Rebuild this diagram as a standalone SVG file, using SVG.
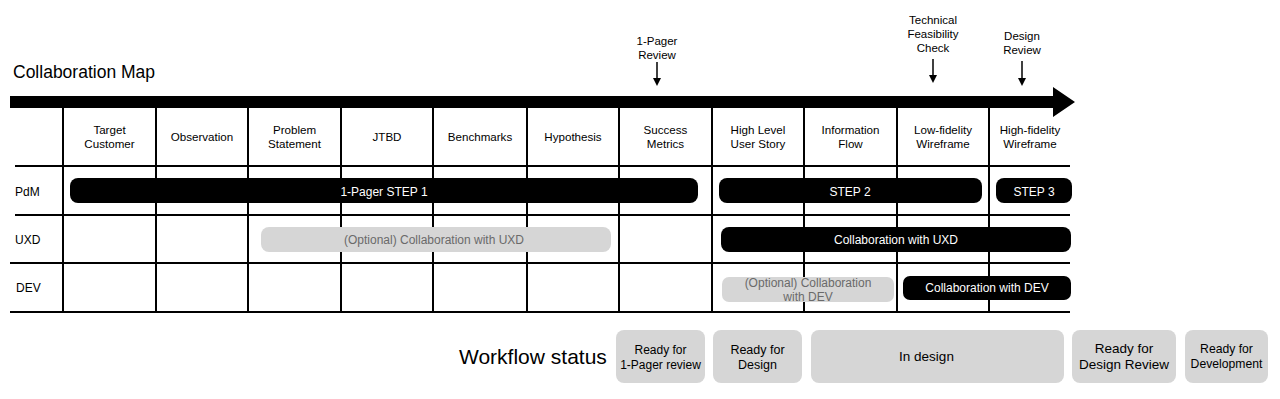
<svg xmlns="http://www.w3.org/2000/svg" width="1280" height="399" viewBox="0 0 1280 399">
<style>
text{font-family:"Liberation Sans",Arial,sans-serif;fill:#000}
.hd{font-size:11.6px;text-anchor:middle}
.ms{font-size:11.5px;text-anchor:middle}
.row{font-size:12px}
.grid line{stroke:#000;stroke-width:2}
.bk{fill:#000}
.gy{fill:#d6d6d6}
.bt{font-size:12px;text-anchor:middle;fill:#fff}
.gt{font-size:12px;text-anchor:middle;fill:#6a6a6a}
.st{fill:#d6d6d6}
.sx{text-anchor:middle}
</style>
<defs>
<marker id="ah" markerWidth="8" markerHeight="8" refX="4" refY="4" orient="auto" markerUnits="userSpaceOnUse">
<path d="M0,0 L8,4 L0,8 z" fill="#000"/>
</marker>
</defs>

<g id="title"><text x="13" y="78" style="font-size:17.5px">Collaboration Map</text></g>

<g id="timeline">
<polygon points="10,96 1053,96 1053,87 1075,102 1053,117 1053,108 10,108" fill="#000"/>
</g>

<g id="grid" class="grid">
<line x1="15" y1="166" x2="1070" y2="166"/>
<line x1="15" y1="215" x2="1070" y2="215"/>
<line x1="10" y1="263" x2="1070" y2="263"/>
<line x1="10" y1="312" x2="1070" y2="312"/>
<line x1="63" y1="108" x2="63" y2="312"/>
<line x1="156" y1="108" x2="156" y2="312"/>
<line x1="248" y1="108" x2="248" y2="312"/>
<line x1="341" y1="108" x2="341" y2="312"/>
<line x1="433" y1="108" x2="433" y2="312"/>
<line x1="527" y1="108" x2="527" y2="312"/>
<line x1="619" y1="108" x2="619" y2="312"/>
<line x1="712" y1="108" x2="712" y2="312"/>
<line x1="804" y1="108" x2="804" y2="312"/>
<line x1="897" y1="108" x2="897" y2="312"/>
<line x1="989" y1="108" x2="989" y2="312"/>
</g>

<g id="headers">
<text class="hd" x="109.5" y="133.5">Target</text><text class="hd" x="109.5" y="147.5">Customer</text>
<text class="hd" x="202" y="141">Observation</text>
<text class="hd" x="294.5" y="133.5">Problem</text><text class="hd" x="294.5" y="147.5">Statement</text>
<text class="hd" x="387" y="141">JTBD</text>
<text class="hd" x="480" y="141">Benchmarks</text>
<text class="hd" x="573" y="141">Hypothesis</text>
<text class="hd" x="665.5" y="133.5">Success</text><text class="hd" x="665.5" y="147.5">Metrics</text>
<text class="hd" x="758" y="133.5">High Level</text><text class="hd" x="758" y="147.5">User Story</text>
<text class="hd" x="850.5" y="133.5">Information</text><text class="hd" x="850.5" y="147.5">Flow</text>
<text class="hd" x="943" y="133.5">Low-fidelity</text><text class="hd" x="943" y="147.5">Wireframe</text>
<text class="hd" x="1030" y="133.5">High-fidelity</text><text class="hd" x="1030" y="147.5">Wireframe</text>
</g>

<g id="rows">
<text class="row" x="15" y="196">PdM</text>
<text class="row" x="15" y="244">UXD</text>
<text class="row" x="16" y="292">DEV</text>
</g>

<g id="milestone-1pager">
<text class="ms" x="657" y="45">1-Pager</text><text class="ms" x="657" y="59">Review</text>
</g>
<g id="milestone-tech">
<text class="ms" x="933" y="24">Technical</text><text class="ms" x="933" y="38">Feasibility</text><text class="ms" x="933" y="52">Check</text>
</g>
<g id="milestone-design">
<text class="ms" x="1022" y="40">Design</text><text class="ms" x="1022" y="54">Review</text>
</g>

<g id="connectors" stroke="#000" stroke-width="1.5">
<line x1="657" y1="62" x2="657" y2="82" marker-end="url(#ah)"/>
<line x1="933" y1="59" x2="933" y2="79" marker-end="url(#ah)"/>
<line x1="1022" y1="61" x2="1022" y2="82" marker-end="url(#ah)"/>
</g>

<g id="bar-step1"><rect class="bk" x="70" y="178" width="628" height="25" rx="8"/><text class="bt" x="384" y="196">1-Pager STEP 1</text></g>
<g id="bar-step2"><rect class="bk" x="719" y="178" width="263" height="25" rx="8"/><text class="bt" x="850" y="196">STEP 2</text></g>
<g id="bar-step3"><rect class="bk" x="996" y="178" width="76" height="25" rx="8"/><text class="bt" x="1034" y="196">STEP 3</text></g>
<g id="bar-uxd-opt"><rect class="gy" x="261" y="227" width="350" height="25" rx="8"/><text class="gt" x="434" y="244">(Optional) Collaboration with UXD</text></g>
<g id="bar-uxd"><rect class="bk" x="721" y="227" width="350" height="25" rx="8"/><text class="bt" x="896" y="244">Collaboration with UXD</text></g>
<g id="bar-dev-opt"><rect class="gy" x="722" y="277" width="172" height="25" rx="7"/><text class="gt" x="808" y="287">(Optional) Collaboration</text><text class="gt" x="808" y="301">with DEV</text></g>
<g id="bar-dev"><rect class="bk" x="903" y="276" width="168" height="24" rx="7"/><text class="bt" x="987" y="292">Collaboration with DEV</text></g>

<g id="workflow-label"><text x="459" y="364" style="font-size:21px">Workflow status</text></g>
<g id="status-1pager"><rect class="st" x="616" y="330" width="89" height="53" rx="8"/><text class="sx" x="660.5" y="354" style="font-size:12px">Ready for</text><text class="sx" x="660.5" y="369" style="font-size:12px">1-Pager review</text></g>
<g id="status-design"><rect class="st" x="713" y="330" width="89" height="53" rx="8"/><text class="sx" x="757.5" y="354" style="font-size:12.5px">Ready for</text><text class="sx" x="757.5" y="369" style="font-size:12.5px">Design</text></g>
<g id="status-indesign"><rect class="st" x="811" y="330" width="253" height="53" rx="8"/><text class="sx" x="926.5" y="361" style="font-size:13.5px">In design</text></g>
<g id="status-review"><rect class="st" x="1072" y="330" width="104" height="53" rx="8"/><text class="sx" x="1124" y="353" style="font-size:13.5px">Ready for</text><text class="sx" x="1124" y="369" style="font-size:13.5px">Design Review</text></g>
<g id="status-dev"><rect class="st" x="1185" y="330" width="83" height="53" rx="8"/><text class="sx" x="1226.5" y="353" style="font-size:12.2px">Ready for</text><text class="sx" x="1226.5" y="368" style="font-size:12.2px">Development</text></g>
</svg>
